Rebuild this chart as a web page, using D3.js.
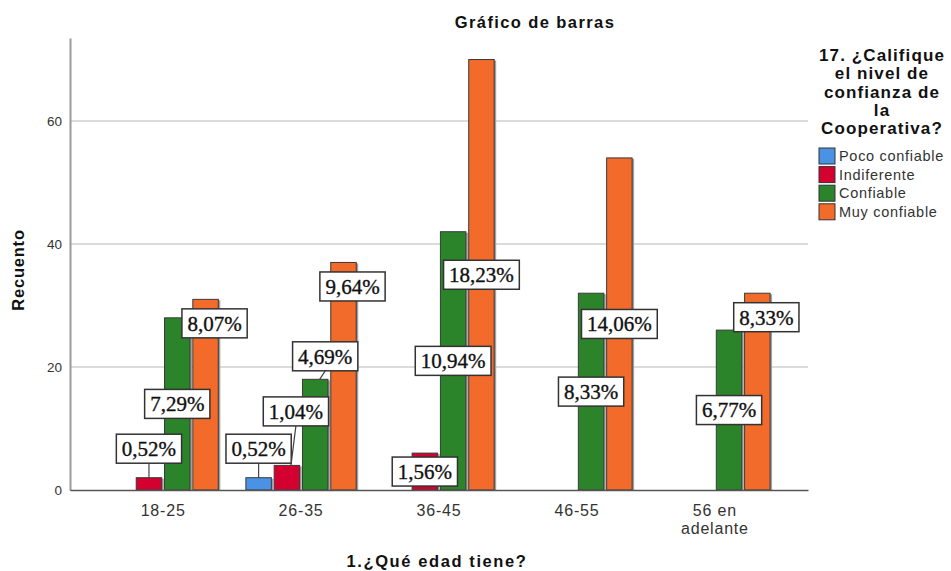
<!DOCTYPE html>
<html>
<head>
<meta charset="utf-8">
<script src="https://cdn.jsdelivr.net/npm/d3@7"></script>
<style>
  body { margin: 0; background: #fff; }
  svg { display: block; font-family: "Liberation Sans", Arial, sans-serif; }
</style>
</head>
<body>
<div id="chart"></div>
<script>
// categories and series (counts)
var ageGroups = ["18-25", "26-35", "36-45", "46-55", "56 en adelante"];
var levels = ["Poco confiable", "Indiferente", "Confiable", "Muy confiable"];
var levelColors = ["#4a92e3", "#d4002f", "#2b832a", "#f26b2b"];
var pocoConfiable = [0, 2, 0, 0, 0];
var indiferente = [2, 4, 6, 0, 0];
var confiable = [28, 18, 42, 32, 26];
var muyConfiable = [31, 37, 70, 54, 32];
var yTicks = [0, 20, 40, 60];

var series = [pocoConfiable, indiferente, confiable, muyConfiable];
var total = d3.sum(series, function (s) { return d3.sum(s); });

var width = 951, height = 571;
var margin = {top: 38, right: 143, bottom: 81, left: 70};
var plotW = width - margin.left - margin.right,
    plotH = height - margin.top - margin.bottom;

var svg = d3.select("#chart").append("svg")
    .attr("width", width)
    .attr("height", height);

var g = svg.append("g")
    .attr("transform", "translate(" + margin.left + "," + margin.top + ")");

var x0 = d3.scaleBand()
    .domain(ageGroups)
    .range([0, plotW])
    .paddingInner(0.2)
    .paddingOuter(0.275);

var x1 = d3.scaleBand()
    .domain(levels)
    .range([0, x0.bandwidth()])
    .paddingInner(0.1);

var y = d3.scaleLinear()
    .domain([0, 73.5])
    .range([plotH, 0]);

// gridlines
g.selectAll(".grid")
  .data(yTicks.slice(1))
  .enter().append("line")
    .attr("x1", 0).attr("x2", plotW)
    .attr("y1", function (d) { return y(d); })
    .attr("y2", function (d) { return y(d); })
    .attr("stroke", "#cfcfcf")
    .attr("stroke-width", 1.5);

// y axis
var yAxis = g.append("g")
    .call(d3.axisLeft(y).tickValues(yTicks).tickSize(0).tickPadding(8));
yAxis.select(".domain").attr("stroke", "#9a9a9a").attr("stroke-width", 2);
yAxis.selectAll("text")
    .attr("font-size", 13.5)
    .attr("fill", "#333")
    .attr("font-family", "Liberation Sans, Arial, sans-serif");

// flat bar records
var bars = [];
ageGroups.forEach(function (grp, i) {
  levels.forEach(function (lev, j) {
    bars.push({group: grp, level: lev, idx: j, value: series[j][i]});
  });
});
var shown = bars.filter(function (d) { return d.value > 0; });

var barG = g.selectAll(".bar")
  .data(shown)
  .enter().append("g")
    .attr("transform", function (d) { return "translate(" + x0(d.group) + ",0)"; });

// little grey shadow on the right of each bar
barG.append("rect")
    .attr("x", function (d) { return x1(d.level) + 2; })
    .attr("y", function (d) { return y(d.value) + 1; })
    .attr("width", x1.bandwidth())
    .attr("height", function (d) { return plotH - y(d.value) - 1; })
    .attr("fill", "#a0a0a0");

barG.append("rect")
    .attr("x", function (d) { return x1(d.level); })
    .attr("y", function (d) { return y(d.value); })
    .attr("width", x1.bandwidth())
    .attr("height", function (d) { return plotH - y(d.value); })
    .attr("fill", function (d) { return levelColors[d.idx]; })
    .attr("stroke", "#3a3a3a")
    .attr("stroke-width", 1);

// x axis
var xAxis = g.append("g")
    .attr("transform", "translate(0," + plotH + ")")
    .call(d3.axisBottom(x0).tickSize(0).tickPadding(10));
xAxis.select(".domain").attr("stroke", "#555").attr("stroke-width", 1.5);
xAxis.selectAll("text").remove();
xAxis.selectAll(".tick").append("text")
    .attr("fill", "#333")
    .attr("font-size", 16)
    .attr("letter-spacing", 0.8)
    .attr("text-anchor", "middle")
    .each(function (d) {
      var words = d.split(" ");
      var lines = words.length > 2 ? [words.slice(0, 2).join(" "), words.slice(2).join(" ")] : [d];
      var t = d3.select(this);
      lines.forEach(function (ln, k) {
        t.append("tspan").attr("x", 0).attr("y", 26 + k * 18).text(ln);
      });
    });

// percentage labels, placed mid-bar and pushed away from each other
var placed = [];
function overlaps(b) {
  return placed.some(function (p) {
    return b.x0 < p.x1 + 2 && b.x1 > p.x0 - 2 && b.y0 < p.y1 + 2 && b.y1 > p.y0 - 2;
  });
}
var labelG = g.append("g");
var boxH = 29;
shown.forEach(function (d) {
  var bx = x0(d.group) + x1(d.level) + x1.bandwidth() / 2;
  var top = y(d.value);
  var h = plotH - top;
  var txt = (d.value / total * 100).toFixed(2).replace(".", ",") + "%";
  var lab = labelG.append("g");
  var t = lab.append("text")
      .attr("font-family", "Liberation Serif, Times New Roman, serif")
      .attr("font-size", 21)
      .attr("fill", "#111")
      .attr("stroke", "#111")
      .attr("stroke-width", 0.35)
      .attr("text-anchor", "middle")
      .attr("dy", "0.35em")
      .text(txt);
  var w = t.node().getComputedTextLength() + 11;
  var cands = h >= boxH
    ? [{cy: top + h / 2, dx: 0, leader: false},
       {cy: top + 24, dx: 9, leader: false},
       {cy: top - 23, dx: 10, leader: true}]
    : [{cy: top - 29, dx: 0, leader: true},
       {cy: top - 54, dx: 9, leader: true}];
  var pick = cands[cands.length - 1], box;
  for (var k = 0; k < cands.length; k++) {
    var c = cands[k];
    var b = {x0: bx + c.dx - w / 2, x1: bx + c.dx + w / 2, y0: c.cy - boxH / 2, y1: c.cy + boxH / 2};
    if (!overlaps(b)) { pick = c; box = b; break; }
  }
  if (!box) box = {x0: bx + pick.dx - w / 2, x1: bx + pick.dx + w / 2, y0: pick.cy - boxH / 2, y1: pick.cy + boxH / 2};
  placed.push(box);
  var lx = bx + pick.dx;
  if (pick.leader) {
    lab.insert("line", "text")
        .attr("x1", lx).attr("y1", box.y1)
        .attr("x2", bx + pick.dx * 0.45).attr("y2", top)
        .attr("stroke", "#444").attr("stroke-width", 1.2);
  }
  lab.insert("rect", "text")
      .attr("x", box.x0).attr("y", box.y0)
      .attr("width", w).attr("height", boxH)
      .attr("fill", "#fff")
      .attr("stroke", "#333")
      .attr("stroke-width", 1.5);
  t.attr("x", lx).attr("y", pick.cy);
});

// titles
svg.append("text")
    .attr("x", 535).attr("y", 28)
    .attr("text-anchor", "middle")
    .attr("font-size", 16.5)
    .attr("font-weight", "bold")
    .attr("letter-spacing", 1.4)
    .attr("fill", "#111")
    .text("Gráfico de barras");

svg.append("text")
    .attr("x", 437).attr("y", 567)
    .attr("text-anchor", "middle")
    .attr("font-size", 16.5)
    .attr("font-weight", "bold")
    .attr("letter-spacing", 1.6)
    .attr("fill", "#111")
    .text("1.¿Qué edad tiene?");

svg.append("text")
    .attr("transform", "translate(24,270) rotate(-90)")
    .attr("text-anchor", "middle")
    .attr("font-size", 16.5)
    .attr("font-weight", "bold")
    .attr("letter-spacing", 0.8)
    .attr("fill", "#111")
    .text("Recuento");

// legend
var legendTitle = ["17. ¿Califique", "el nivel de", "confianza de", "la", "Cooperativa?"];
var leg = svg.append("g").attr("transform", "translate(882,0)");
leg.selectAll(".lt")
  .data(legendTitle)
  .enter().append("text")
    .attr("x", 0)
    .attr("y", function (d, i) { return 61 + i * 18.3; })
    .attr("text-anchor", "middle")
    .attr("font-size", 17)
    .attr("font-weight", "bold")
    .attr("letter-spacing", 1.1)
    .attr("fill", "#111")
    .text(function (d) { return d; });

var items = svg.append("g").attr("transform", "translate(819,148)")
  .selectAll(".li")
  .data(levels)
  .enter().append("g")
    .attr("transform", function (d, i) { return "translate(0," + i * 18.6 + ")"; });
items.append("rect")
    .attr("width", 16).attr("height", 16)
    .attr("fill", function (d, i) { return levelColors[i]; })
    .attr("stroke", "#333")
    .attr("stroke-width", 1);
items.append("text")
    .attr("x", 20).attr("y", 13)
    .attr("font-size", 14.5)
    .attr("letter-spacing", 0.7)
    .attr("fill", "#333")
    .text(function (d) { return d; });
</script>
</body>
</html>
